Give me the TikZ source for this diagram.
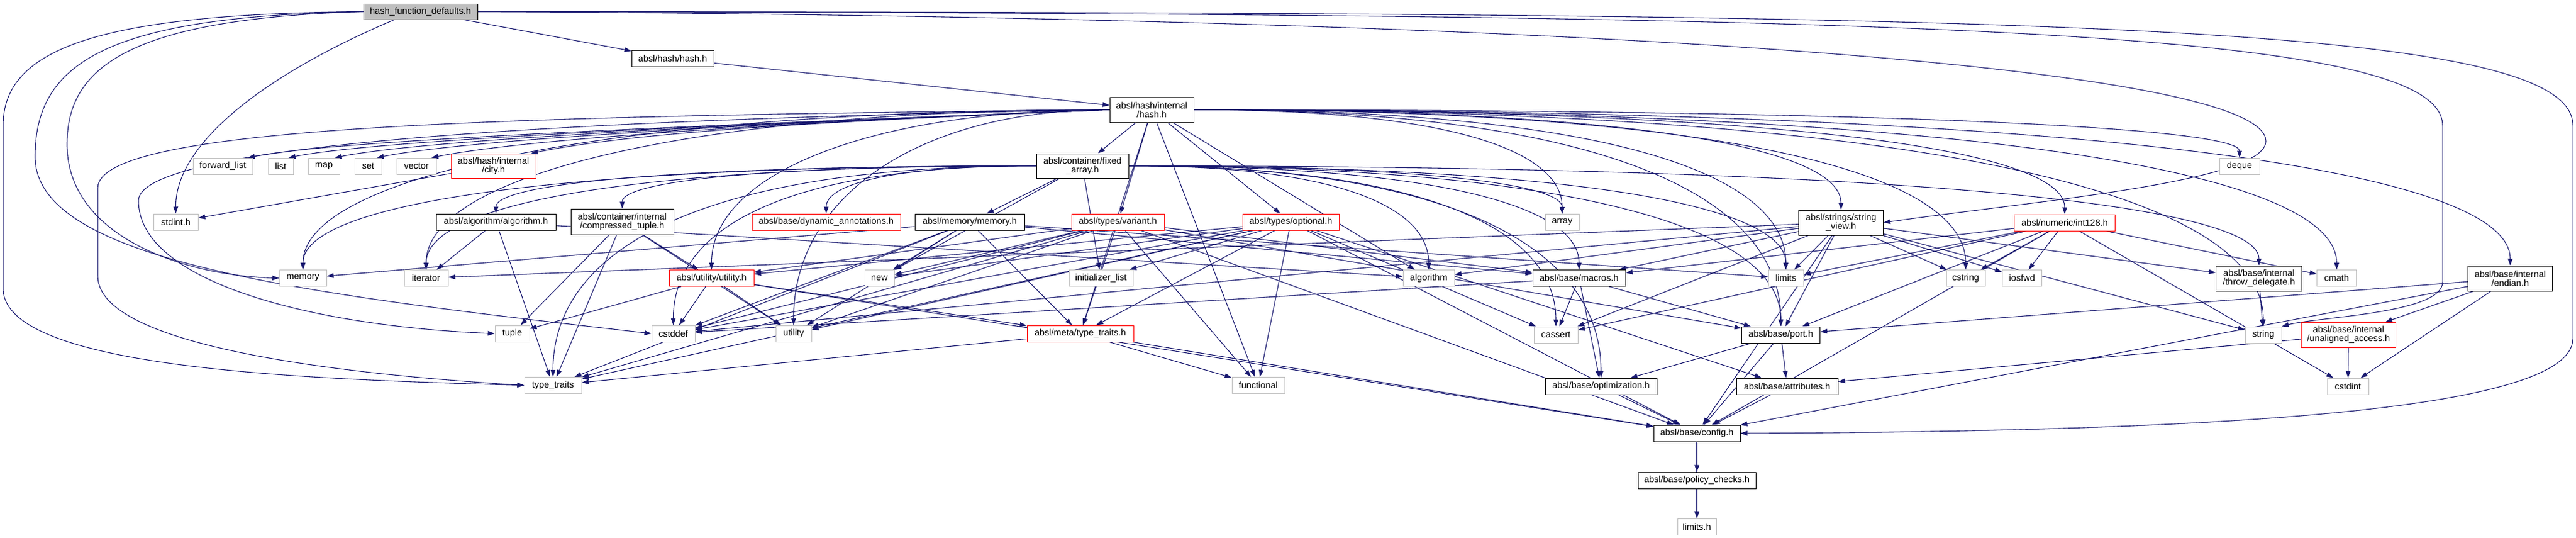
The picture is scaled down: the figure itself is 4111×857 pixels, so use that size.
\documentclass[tikz,border=0pt]{standalone}
\usepackage{fontspec}
\setmainfont{Liberation Sans}
\usetikzlibrary{arrows.meta,calc}
\pgfdeclarelayer{bg}
\pgfdeclarelayer{canvas}
\pgfsetlayers{canvas,bg,main}
\definecolor{edgec}{HTML}{191970}
\definecolor{extc}{HTML}{BFBFBF}
\begin{document}
\begin{tikzpicture}[x=1pt,y=1pt,
  box/.style={draw, rectangle, fill=white, line width=1pt, inner sep=1pt, minimum height=26pt, align=center, font=\fontsize{14.5}{14}\selectfont},
  doc/.style={box, draw=black},
  trunc/.style={box, draw=red},
  ext/.style={box, draw=extc},
  root/.style={box, draw=black, fill=extc},
  edge/.style={draw=edgec, line width=1.1pt, -{Triangle[length=11pt,width=7.5pt]}}]
\useasboundingbox (0,0) rectangle (4111,-857);
\begin{pgfonlayer}{canvas}
\fill[white] (0,0) rectangle (4111,-857);
\end{pgfonlayer}
% rank 0-2
\node[root, minimum width=182, minimum height=25] (hfd) at (671,-18.5) {hash\_function\_defaults.h};
\node[doc, minimum width=131] (hash) at (1073.5,-93.5) {absl/hash/hash.h};
\node[doc, minimum width=134, minimum height=40] (ihash) at (1838,-175) {absl/hash/internal\\/hash.h};
% rank 3
\node[ext, minimum width=95] (fwd) at (355.5,-265) {forward\_list};
\node[ext, minimum width=40] (list) at (448,-265) {list};
\node[ext, minimum width=50] (map) at (517,-265) {map};
\node[ext, minimum width=43] (set) at (587.5,-265) {set};
\node[ext, minimum width=63] (vector) at (664.5,-265) {vector};
\node[trunc, minimum width=135, minimum height=39] (city) at (787.5,-264.5) {absl/hash/internal\\/city.h};
\node[doc, minimum width=147, minimum height=39] (fixed) at (1727.5,-264.5) {absl/container/fixed\\\_array.h};
\node[ext, minimum width=64] (deque) at (3574,-265) {deque};
% rank 4
\node[ext, minimum width=71] (stdinth) at (280.5,-354) {stdint.h};
\node[doc, minimum width=191] (algoh) at (791.5,-354) {absl/algorithm/algorithm.h};
\node[doc, minimum width=164, minimum height=41] (ctuple) at (993,-353.5) {absl/container/internal\\/compressed\_tuple.h};
\node[trunc, minimum width=237] (dynann) at (1318.5,-354) {absl/base/dynamic\_annotations.h};
\node[doc, minimum width=175] (memh) at (1547.5,-354) {absl/memory/memory.h};
\node[trunc, minimum width=148] (variant) at (1784,-354) {absl/types/variant.h};
\node[trunc, minimum width=154] (optional) at (2060,-354) {absl/types/optional.h};
\node[ext, minimum width=54] (array) at (2493,-354.5) {array};
\node[doc, minimum width=135, minimum height=40] (strview) at (2938,-355) {absl/strings/string\\\_view.h};
\node[trunc, minimum width=161] (int128) at (3295,-355) {absl/numeric/int128.h};
% rank 5
\node[ext, minimum width=75] (memory) at (483.5,-443.5) {memory};
\node[ext, minimum width=70] (iterator) at (680,-443.5) {iterator};
\node[trunc, minimum width=135] (utilh) at (1135.5,-443.5) {absl/utility/utility.h};
\node[ext, minimum width=47] (new) at (1403.5,-443.5) {new};
\node[ext, minimum width=102] (initl) at (1757,-443.5) {initializer\_list};
\node[ext, minimum width=82] (algorithm) at (2280,-443.5) {algorithm};
\node[doc, minimum width=148] (macros) at (2520,-443.5) {absl/base/macros.h};
\node[ext, minimum width=56] (limits) at (2850,-443.5) {limits};
\node[ext, minimum width=62] (cstring) at (3137,-443.5) {cstring};
\node[ext, minimum width=63] (iosfwd) at (3227,-443.5) {iosfwd};
\node[doc, minimum width=137, minimum height=40] (throwd) at (3605,-444) {absl/base/internal\\/throw\_delegate.h};
\node[ext, minimum width=63] (cmath) at (3729,-443.5) {cmath};
\node[doc, minimum width=135, minimum height=40] (endian) at (4006,-444) {absl/base/internal\\/endian.h};
% rank 6
\node[ext, minimum width=55] (tuple) at (817.5,-532) {tuple};
\node[ext, minimum width=69] (cstddef) at (1074.5,-532) {cstddef};
\node[ext, minimum width=57] (utility) at (1266.5,-532) {utility};
\node[trunc, minimum width=170] (metatt) at (1724,-532) {absl/meta/type\_traits.h};
\node[ext, minimum width=70] (cassert) at (2483,-534) {cassert};
\node[doc, minimum width=125] (port) at (2842,-534) {absl/base/port.h};
\node[ext, minimum width=58] (string) at (3612,-534) {string};
\node[trunc, minimum width=151, minimum height=40] (unal) at (3748,-534) {absl/base/internal\\/unaligned\_access.h};
% rank 7
\node[ext, minimum width=91] (typetraits) at (882.5,-614.5) {type\_traits};
\node[ext, minimum width=84] (functional) at (2008,-614.5) {functional};
\node[doc, minimum width=178] (optim) at (2555,-616) {absl/base/optimization.h};
\node[doc, minimum width=162] (attrs) at (2852,-616) {absl/base/attributes.h};
\node[ext, minimum width=66] (cstdint) at (3747,-616) {cstdint};
% rank 8-10
\node[doc, minimum width=138] (config) at (2708,-691) {absl/base/config.h};
\node[doc, minimum width=188] (policy) at (2708,-766) {absl/base/policy\_checks.h};
\node[ext, minimum width=62] (limitsh) at (2708,-840) {limits.h};

\begin{pgfonlayer}{bg}
% hash_function_defaults.h
\draw[edge] (hfd.west) .. controls (150,-22) and (5,-80) .. (5,-200) -- (5,-460) .. controls (5,-590) and (500,-605) .. (typetraits.west);
\draw[edge] (hfd.west) .. controls (170,-26) and (56,-100) .. (56,-250) .. controls (56,-420) and (500,-470) .. (cstddef.west);
\draw[edge] (hfd.west) .. controls (200,-30) and (107,-110) .. (107,-230) .. controls (107,-380) and (300,-440) .. (memory.west);
\draw[edge] ([xshift=-42pt]hfd.south) .. controls (420,-120) and (280,-230) .. (stdinth.north);
\draw[edge] (hfd) -- (hash);
\draw[edge] (hfd.east) .. controls (2600,-28) and (3616,-110) .. (3616,-225) .. controls (3616,-290) and (3250,-320) .. (strview.east);
\draw[edge] (hfd.east) .. controls (3000,-22) and (3898,-40) .. (3898,-200) -- (3898,-450) .. controls (3898,-500) and (3700,-505) .. (string.north east);
\draw[edge] (hfd.east) .. controls (3200,-20) and (4106,-30) .. (4106,-200) -- (4106,-540) .. controls (4106,-660) and (3500,-688) .. (config.east);
% hash.h
\draw[edge] (hash) -- (ihash);
% internal/hash.h
\foreach \t in {fwd,list,map,set,vector,city}
  \draw[edge] (ihash.west) .. controls ($(ihash.west)+(-500,-20)$) and ($([xshift=-8pt]\t.north east)+(160,32)$) .. ([xshift=-8pt]\t.north east);
\foreach \t in {memory,iterator,utility,utilh}
  \draw[edge] (ihash.west) .. controls ($(ihash.west)!0.6!(\t.north |- ihash.west)$) and ($(\t.north)!0.6!(\t.north |- ihash.west)$) .. (\t.north);
\foreach \t in {array,strview,deque,int128,limits,cstring,cmath,string,endian,port}
  \draw[edge] (ihash.east) .. controls ($(ihash.east)!0.7!(\t.north |- ihash.east)$) and ($(\t.north)!0.6!(\t.north |- ihash.east)$) .. (\t.north);
\foreach \t in {algorithm,functional,fixed,metatt,optional,variant}
  \draw[edge] (ihash) -- (\t);
\draw[edge] (ihash.west) .. controls (800,-185) and (156,-200) .. (156,-300) -- (156,-440) .. controls (156,-560) and (600,-600) .. (typetraits.west);
\draw[edge] (ihash.west) .. controls (900,-190) and (221,-230) .. (221,-320) .. controls (221,-450) and (500,-520) .. (tuple.west);
% city.h
\draw[edge] (city) -- (stdinth);
% fixed_array.h
\foreach \t in {algoh,ctuple,dynann,iterator,memory,cstddef,typetraits}
  \draw[edge] (fixed.west) .. controls ($(fixed.west)!0.7!(\t.north |- fixed.west)$) and ($(\t.north)!0.6!(\t.north |- fixed.west)$) .. (\t.north);
\foreach \t in {algorithm,array,cassert,limits,throwd,macros,optim,port}
  \draw[edge] (fixed.east) .. controls ($(fixed.east)!0.7!(\t.north |- fixed.east)$) and ($(\t.north)!0.6!(\t.north |- fixed.east)$) .. (\t.north);
\foreach \t in {new,initl,memh}
  \draw[edge] (fixed) -- (\t);
\foreach \t in {algorithm,iterator,typetraits}
  \draw[edge] (algoh) -- (\t);
\foreach \t in {tuple,typetraits,utility,utilh}
  \draw[edge] (ctuple) -- (\t);
\foreach \t in {cstddef,tuple,utility,config,metatt}
  \draw[edge] (utilh) -- (\t);
\foreach \t in {cstddef,limits,memory,new,typetraits,utility,macros,metatt}
  \draw[edge] (memh) -- (\t);
\foreach \t in {config,utilh,functional,new,typetraits,utility,macros,port,metatt,cstddef}
  \draw[edge] (variant) -- (\t);
\foreach \t in {config,utilh,cassert,cstddef,functional,initl,new,typetraits,utility,attrs,metatt}
  \draw[edge] (optional) -- (\t);
\foreach \t in {algorithm,cassert,cstddef,cstring,iosfwd,iterator,limits,string,throwd,macros,port,config}
  \draw[edge] (strview) -- (\t);
\foreach \t in {cassert,cmath,cstdint,cstring,iosfwd,limits,config,macros,port}
  \draw[edge] (int128) -- (\t);
\foreach \t in {cstdint,config,unal,port}
  \draw[edge] (endian) -- (\t);
\draw[edge] (throwd) -- (string);
\foreach \t in {cassert,cstddef,optim,port}
  \draw[edge] (macros) -- (\t);
\foreach \t in {attrs,config,optim}
  \draw[edge] (port) -- (\t);
\draw[edge] (optim) -- (config);
\draw[edge] (attrs) -- (config);
\foreach \t in {cstdint,attrs}
  \draw[edge] (unal) -- (\t);
\foreach \t in {functional,typetraits,config}
  \draw[edge] (metatt) -- (\t);
\draw[edge] (config) -- (limitsh);
\draw[edge] (config) -- (policy);
\draw[edge] (policy) -- (limitsh);
\end{pgfonlayer}
\end{tikzpicture}
\end{document}
